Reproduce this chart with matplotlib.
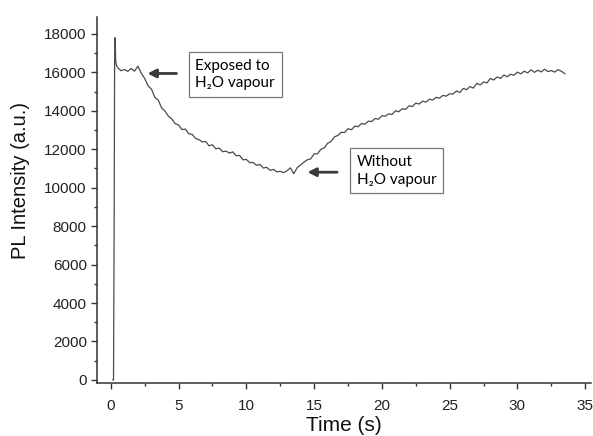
import matplotlib.pyplot as plt
from matplotlib.ticker import MultipleLocator

plt.rcParams['font.family'] = ['Liberation Sans', 'DejaVu Sans']

# rise at the start
rise_t = [0.15, 0.2, 0.25, 0.28, 0.32, 0.36, 0.42]
rise_pl = [0, 0, 8800, 16500, 17800, 16600, 16350]

# main trace, every 0.25 s from 0.5 s
trace_t = [0.5, 0.75, 1.0, 1.25, 1.5, 1.75, 2.0, 2.25,
           2.5, 2.75, 3.0, 3.25, 3.5, 3.75, 4.0, 4.25,
           4.5, 4.75, 5.0, 5.25, 5.5, 5.75, 6.0, 6.25,
           6.5, 6.75, 7.0, 7.25, 7.5, 7.75, 8.0, 8.25,
           8.5, 8.75, 9.0, 9.25, 9.5, 9.75, 10.0, 10.25,
           10.5, 10.75, 11.0, 11.25, 11.5, 11.75, 12.0, 12.25,
           12.5, 12.75, 13.0, 13.25, 13.5, 13.75, 14.0, 14.25,
           14.5, 14.75, 15.0, 15.25, 15.5, 15.75, 16.0, 16.25,
           16.5, 16.75, 17.0, 17.25, 17.5, 17.75, 18.0, 18.25,
           18.5, 18.75, 19.0, 19.25, 19.5, 19.75, 20.0, 20.25,
           20.5, 20.75, 21.0, 21.25, 21.5, 21.75, 22.0, 22.25,
           22.5, 22.75, 23.0, 23.25, 23.5, 23.75, 24.0, 24.25,
           24.5, 24.75, 25.0, 25.25, 25.5, 25.75, 26.0, 26.25,
           26.5, 26.75, 27.0, 27.25, 27.5, 27.75, 28.0, 28.25,
           28.5, 28.75, 29.0, 29.25, 29.5, 29.75, 30.0, 30.25,
           30.5, 30.75, 31.0, 31.25, 31.5, 31.75, 32.0, 32.25,
           32.5, 32.75, 33.0, 33.25, 33.5]
trace_pl = [16250, 16080, 16150, 16050, 16200, 16060, 16320, 15950,
            15680, 15300, 15120, 14700, 14560, 14150, 13980, 13720,
            13580, 13330, 13260, 13020, 13050, 12800, 12780, 12560,
            12500, 12380, 12400, 12180, 12230, 12020, 12060, 11870,
            11900, 11800, 11860, 11660, 11680, 11450, 11470, 11300,
            11310, 11160, 11210, 11020, 11060, 10900, 10950, 10820,
            10850, 10780, 10880, 11030, 10730, 11040, 11180, 11330,
            11450, 11500, 11760, 11760, 12000, 12070, 12310, 12400,
            12640, 12720, 12880, 12870, 13070, 13010, 13200, 13170,
            13340, 13300, 13460, 13440, 13600, 13560, 13740, 13720,
            13840, 13810, 14000, 13950, 14110, 14070, 14260, 14220,
            14400, 14350, 14500, 14450, 14600, 14560, 14700, 14660,
            14800, 14760, 14880, 14870, 15030, 14950, 15160, 15100,
            15260, 15180, 15430, 15340, 15500, 15450, 15680, 15600,
            15760, 15680, 15860, 15770, 15900, 15850, 16010, 15920,
            16060, 15970, 16130, 16000, 16110, 16020, 16160, 16040,
            16090, 16010, 16140, 16050, 15930]

time = rise_t + trace_t
pl = rise_pl + trace_pl

fig = plt.figure(figsize=(5.93, 4.36), dpi=100)
ax = fig.add_axes([0.164, 0.122, 0.832, 0.840])

ax.plot(time, pl, color='#4a4a4a', lw=0.9)

ax.set_xlim(-1.0, 35.4)
ax.set_ylim(-150, 18900)
ax.xaxis.set_major_locator(MultipleLocator(5))
ax.xaxis.set_minor_locator(MultipleLocator(2.5))
ax.yaxis.set_major_locator(MultipleLocator(2000))
ax.yaxis.set_minor_locator(MultipleLocator(1000))

for s in ['top', 'right']:
    ax.spines[s].set_visible(False)
for s in ['left', 'bottom']:
    ax.spines[s].set_color('#333333')
    ax.spines[s].set_linewidth(1.1)
ax.tick_params(which='major', direction='out', length=4, width=1, colors='#333333', labelsize=11, labelcolor='#222222')
ax.tick_params(which='minor', direction='out', length=2.5, width=1, colors='#333333')
ax.tick_params(axis='x', which='major', pad=8)

ax.set_xlabel('Time (s)', fontsize=15, labelpad=1.5, color='#111111')
ax.set_ylabel('PL Intensity (a.u.)', fontsize=14.5, color='#111111')
ax.yaxis.set_label_coords(-0.137, 0.553)

box = dict(boxstyle='square,pad=0.45', fc='white', ec='#777777', lw=0.9)
ax.annotate('', xy=(2.5, 15940), xytext=(5.05, 15940),
            arrowprops=dict(arrowstyle='-|>,head_length=0.5,head_width=0.25', color='#3a3a3a', lw=2))
ax.text(9.18, 15870, 'Exposed to\nH\u2082O vapour', ha='center', va='center', ma='left',
        fontsize=11, family=['Lato', 'DejaVu Sans'], bbox=box, linespacing=1.3)
ax.annotate('', xy=(14.3, 10805), xytext=(16.9, 10805),
            arrowprops=dict(arrowstyle='-|>,head_length=0.5,head_width=0.25', color='#3a3a3a', lw=2))
ax.text(21.1, 10870, 'Without\nH\u2082O vapour', ha='center', va='center', ma='left',
        fontsize=11, family=['Lato', 'DejaVu Sans'], bbox=box, linespacing=1.3)

fig.savefig('out.png', dpi=100)
